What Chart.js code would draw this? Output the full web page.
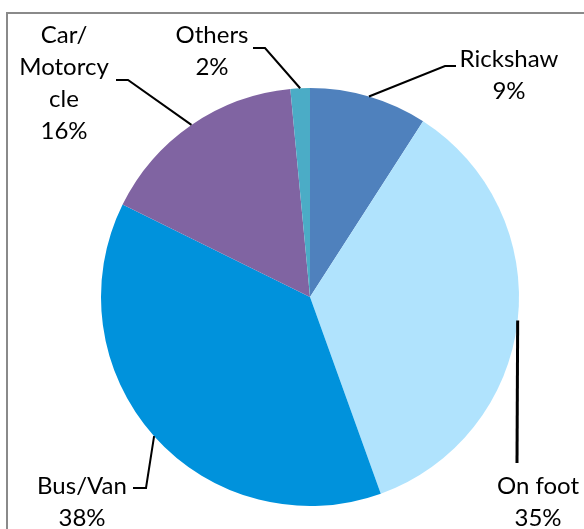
<!DOCTYPE html>
<html>
<head>
<meta charset="utf-8">
<script src="https://cdn.jsdelivr.net/npm/chart.js@4.4.0/dist/chart.umd.min.js"></script>
<style>
  html, body { margin: 0; padding: 0; background: #fff; }
  #wrap { width: 584px; height: 529px; position: relative; }
</style>
</head>
<body>
<div id="wrap"><canvas id="pie" width="584" height="529"></canvas></div>
<script>
const categories = ['Rickshaw', 'On foot', 'Bus/Van', 'Car/Motorcycle', 'Others'];
const shares = [9.1, 35.4, 37.8, 16.2, 1.5];
const nameLines = [['Rickshaw'], ['On foot'], ['Bus/Van'], ['Car/', 'Motorcy', 'cle'], ['Others']];
const colors = ['#4f81bd', '#b0e3fd', '#0092dc', '#8064a2', '#4bacc6'];

// label anchor (text centre x, first baseline y) and the leader elbow points
const labelPos = [
  { x: 509, y: 67, path: [[445, 66], [456, 66]] },
  { x: 538, y: 494, path: [[517, 463]] },
  { x: 82, y: 494, path: [[146, 488], [133, 488]] },
  { x: 64, y: 43, path: [[128, 80], [116, 80]] },
  { x: 212, y: 43, path: [[265, 48], [253, 48]] }
];

const frame = {
  id: 'frame',
  beforeDraw(chart) {
    const c = chart.ctx;
    c.save();
    c.strokeStyle = '#8a8a8a';
    c.lineWidth = 2;
    c.strokeRect(7, 13, 700, 700);
    c.restore();
  }
};

const pieLabels = {
  id: 'pieLabels',
  afterDraw(chart) {
    const c = chart.ctx;
    const arcs = chart.getDatasetMeta(0).data;
    const total = shares.reduce((a, b) => a + b, 0);
    c.save();
    arcs.forEach((arc, i) => {
      const p = arc.getProps(['x', 'y', 'startAngle', 'endAngle', 'outerRadius'], true);
      const mid = (p.startAngle + p.endAngle) / 2;
      const sx = p.x + Math.cos(mid) * p.outerRadius;
      const sy = p.y + Math.sin(mid) * p.outerRadius;
      c.beginPath();
      c.strokeStyle = '#000';
      c.lineWidth = i === 1 ? 3 : 2;
      c.moveTo(sx, sy);
      labelPos[i].path.forEach(pt => c.lineTo(pt[0], pt[1]));
      c.stroke();
      c.fillStyle = '#000';
      c.font = '24px Lato, sans-serif';
      c.textAlign = 'center';
      c.textBaseline = 'alphabetic';
      const lines = nameLines[i].concat(Math.round(shares[i] / total * 100) + '%');
      lines.forEach((t, k) => c.fillText(t, labelPos[i].x, labelPos[i].y + k * 32));
    });
    c.restore();
  }
};

new Chart(document.getElementById('pie').getContext('2d'), {
  type: 'pie',
  data: {
    labels: categories,
    datasets: [{ data: shares, backgroundColor: colors, borderWidth: 0 }]
  },
  options: {
    responsive: false,
    animation: false,
    layout: { padding: { left: 101, right: 65, top: 88, bottom: 23 } },
    plugins: { legend: { display: false }, tooltip: { enabled: false } }
  },
  plugins: [frame, pieLabels]
});
</script>
</body>
</html>
